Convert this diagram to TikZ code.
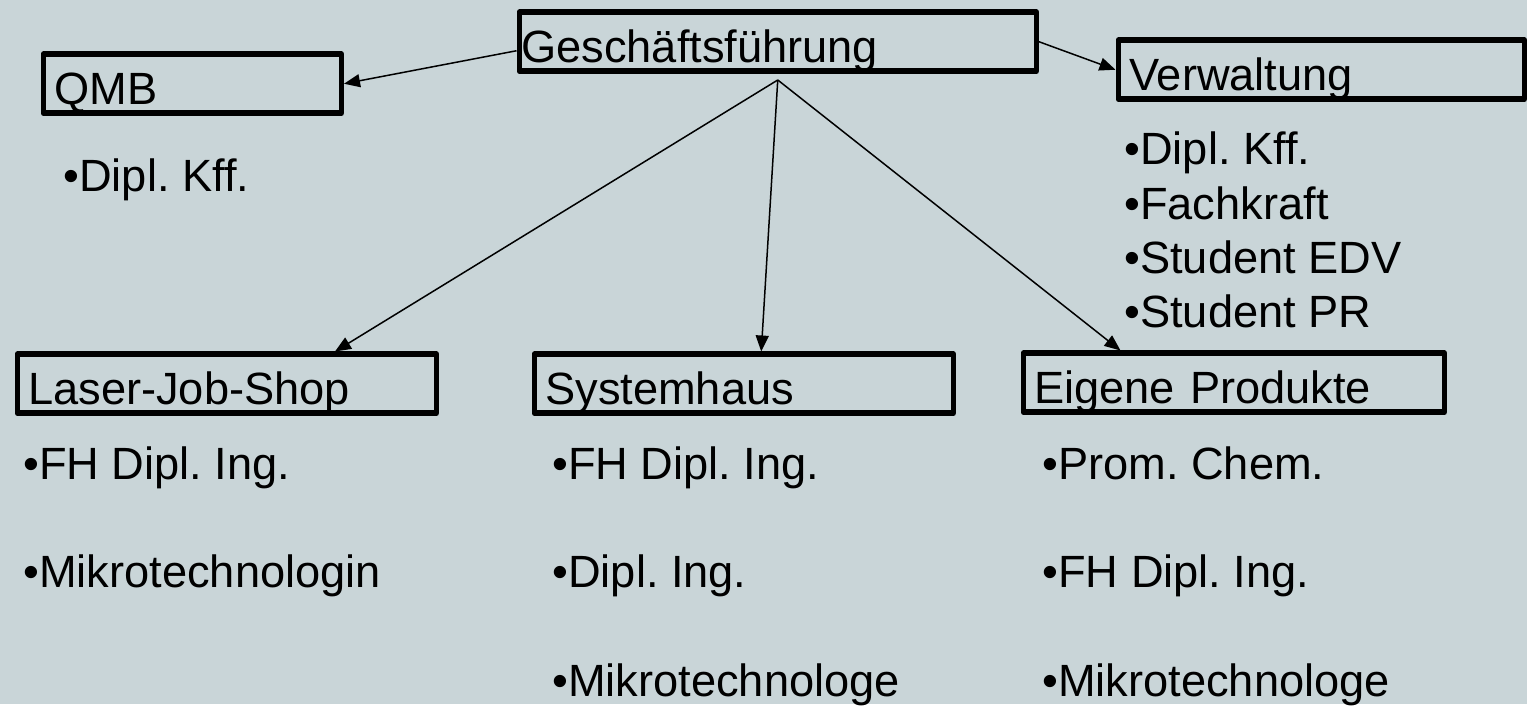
\documentclass[tikz,border=0pt]{standalone}
\usepackage{fontspec}
\setmainfont{Liberation Sans}
\usetikzlibrary{arrows.meta}
\definecolor{slidebg}{RGB}{201,213,216}
\frenchspacing
\tikzset{
  orgbox/.style={draw, line width=2.75pt, line join=round, anchor=north west,
    inner xsep=5.5pt, inner ysep=0pt, text height=25.25pt, text depth=4.25pt, align=left},
  staff/.style={anchor=base west, inner sep=0pt},
  link/.style={line width=0.75pt, -{Triangle[length=8pt,width=6.5pt]}}
}

\begin{document}
\begin{tikzpicture}[x=0.5pt, y=-0.5pt, font=\fontsize{22.6}{26}\selectfont]
    \fill [slidebg] (0,0) rectangle (1527,704);

    \node [orgbox, inner xsep=1pt, text width=256.5pt] (gf) at (516.5,9.5) {Geschäftsführung};
    \node [orgbox, text width=138pt] (qmb) at (40.5,51.5) {QMB};
    \node [orgbox, text width=192pt] (verw) at (1115.5,37.5) {Verwaltung};
    \node [orgbox, text width=198.5pt] (laser) at (14.5,351.5) {Laser-Job-Shop};
    \node [orgbox, text width=198.5pt] (syshaus) at (531.5,351.5) {Systemhaus};
    \node [orgbox, text width=199.5pt] (eigen) at (1020.5,350.5) {Eigene Produkte};

    \node [staff] (qmb1) at (63,192) {•Dipl. Kff.};
    \foreach \name [count=\i] in {Dipl. Kff., Fachkraft, Student EDV, Student PR}
      \node [staff] (verw\i) at (1124,{165+54.3*(\i-1)}) {•\name};
    \foreach \name [count=\i] in {FH Dipl. Ing., Mikrotechnologin}
      \node [staff] (laser\i) at (23,{479+108.5*(\i-1)}) {•\name};
    \foreach \name [count=\i] in {FH Dipl. Ing., Dipl. Ing., Mikrotechnologe}
      \node [staff] (sys\i) at (552,{479+108.5*(\i-1)}) {•\name};
    \foreach \name [count=\i] in {Prom. Chem., FH Dipl. Ing., Mikrotechnologe}
      \node [staff] (eigen\i) at (1042,{479+108.5*(\i-1)}) {•\name};

    \coordinate (hub) at ([yshift=-3pt]gf.south);
    \draw [link] ([yshift=-4.5pt]gf.west) -- (qmb.east);
    \draw [link] (gf.east) -- (verw.west);
    \draw [link] (hub) -- ([xshift=-52pt]laser.north east);
    \draw [link] (hub) -- ([xshift=8.75pt]syshaus.north);
    \draw [link] (hub) -- ([xshift=50pt]eigen.north west);
\end{tikzpicture}
\end{document}
